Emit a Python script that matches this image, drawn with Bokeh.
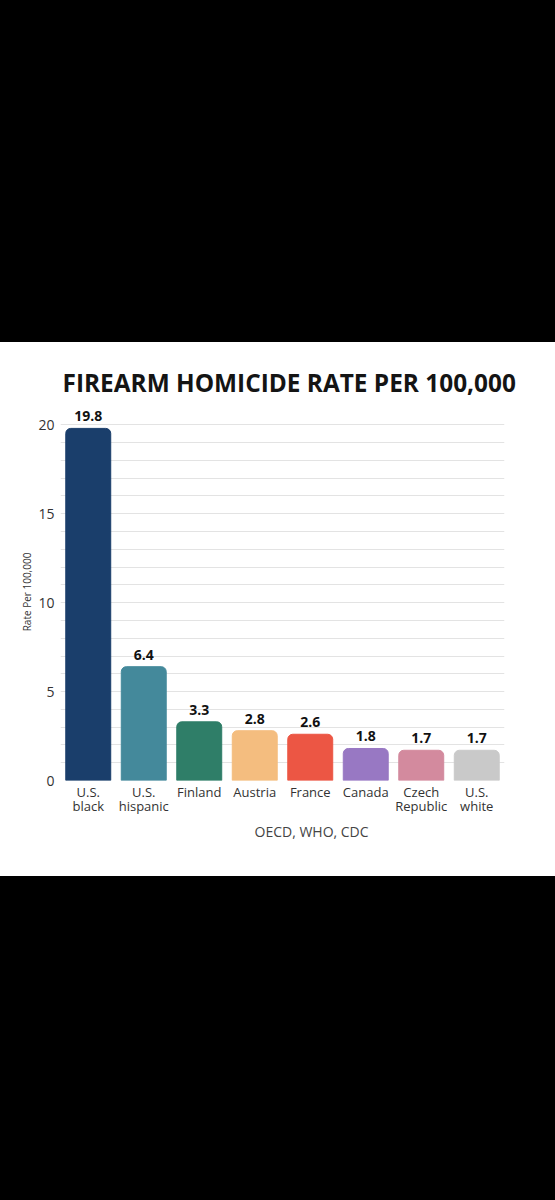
from bokeh.plotting import figure
from bokeh.models import ColumnDataSource, FixedTicker, Range1d, FactorRange, Spacer, Title
from bokeh.layouts import column
from bokeh.core.properties import value
from bokeh.embed import file_html
from bokeh.resources import INLINE

# ---- data ----
categories = ["U.S.\nblack", "U.S.\nhispanic", "Finland", "Austria", "France",
              "Canada", "Czech\nRepublic", "U.S.\nwhite"]
rates = [19.8, 6.4, 3.3, 2.8, 2.6, 1.8, 1.7, 1.7]
colors = ["#1a3e6b", "#44899b", "#2f7e68", "#f4bd7f", "#ec5644",
          "#9878c3", "#d38a9e", "#c9c9c9"]
rate_labels = [f"{r:.1f}" for r in rates]
y_ticks = [0, 5, 10, 15, 20]
grid_ticks = list(range(0, 21))
title_text = "FIREARM HOMICIDE RATE PER 100,000"
source_text = "OECD, WHO, CDC"
y_label = "Rate Per 100,000"

FONT = "Open Sans"

src = ColumnDataSource(dict(cat=categories, rate=rates, color=colors, lab=rate_labels))

p = figure(width=555, height=534, x_range=FactorRange(*categories),
           y_range=Range1d(0, 21.2), output_backend="svg", toolbar_location=None,
           min_border_left=60, min_border_right=51, min_border_top=61,
           min_border_bottom=96)
p.styles = {"background-color": "#ffffff"}
p.background_fill_color = "white"
p.border_fill_color = "white"
p.outline_line_color = None

p.vbar(x="cat", top="rate", width=0.81, color="color", source=src,
       border_radius=(5, 5, 0, 0))
p.text(x="cat", y="rate", text="lab", source=src, text_align="center",
       text_baseline="alphabetic", y_offset=-12, text_font=value(FONT),
       text_font_style="bold", text_font_size="14px", text_color="#111111")

# axes
p.xgrid.visible = False
p.ygrid.ticker = FixedTicker(ticks=grid_ticks)
p.ygrid.grid_line_color = "#e3e3e3"
p.ygrid.grid_line_width = 1.2

p.yaxis.ticker = FixedTicker(ticks=y_ticks)
p.yaxis.axis_line_color = None
p.yaxis.major_tick_line_color = None
p.yaxis.minor_tick_line_color = None
p.yaxis.major_label_text_font = FONT
p.yaxis.major_label_text_font_size = "14px"
p.yaxis.major_label_text_color = "#333333"
p.yaxis.major_label_standoff = 0
p.yaxis.axis_label = y_label
p.yaxis.axis_label_text_font = FONT
p.yaxis.axis_label_text_font_size = "10px"
p.yaxis.axis_label_text_font_style = "normal"
p.yaxis.axis_label_text_color = "#333333"
p.yaxis.axis_label_standoff = 1

p.xaxis.axis_line_color = None
p.xaxis.major_tick_line_color = None
p.xaxis.minor_tick_line_color = None
p.xaxis.major_label_text_font = FONT
p.xaxis.major_label_text_font_size = "13px"
p.xaxis.major_label_text_color = "#333333"
p.xaxis.major_label_text_line_height = 0.8
p.xaxis.major_label_standoff = -4
p.xaxis.major_label_orientation = "horizontal"

# title and source note
p.title.text = title_text
p.title.align = "left"
p.title.offset = 2
p.title.text_font = FONT
p.title.text_font_style = "bold"
p.title.text_font_size = "24.4px"
p.title.text_color = "#141414"
p.title.standoff = 10

p.add_layout(Title(text=source_text, align="left", offset=194,
                   text_font=FONT, text_font_style="normal",
                   text_font_size="14px", text_color="#444444", standoff=4),
             "below")

layout = column(Spacer(width=555, height=342), p)

html = file_html(layout, INLINE)
html = html.replace("</head>",
                    "<style>html, body { background: #000000 !important; }</style></head>", 1)
open("out.html", "w").write(html)
